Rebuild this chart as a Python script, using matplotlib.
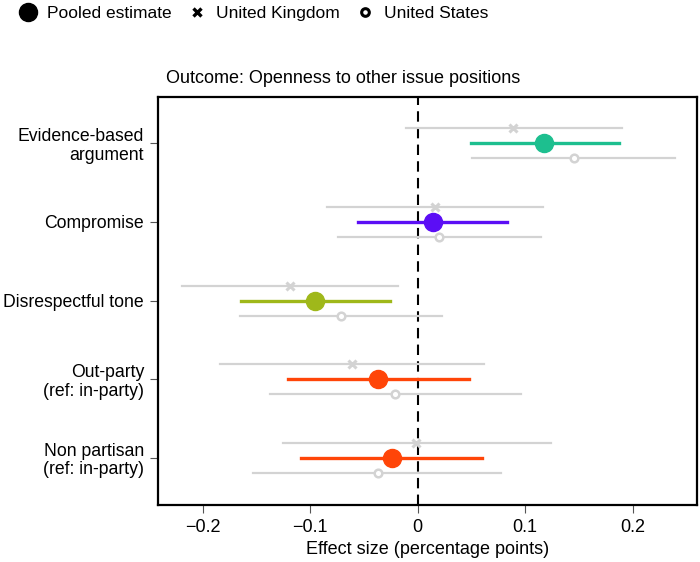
import matplotlib
matplotlib.use("Agg")
import matplotlib.pyplot as plt
from matplotlib.lines import Line2D

plt.rcParams['font.family'] = ['Liberation Sans', 'DejaVu Sans']

categories = ["Evidence-based\nargument", "Compromise", "Disrespectful tone",
              "Out-party\n(ref: in-party)", "Non partisan\n(ref: in-party)"]
colors = ["#1dbf8f", "#5b0ef5", "#9fb81a", "#ff4508", "#ff4508"]

pooled_est = [0.118, 0.014, -0.095, -0.037, -0.024]
pooled_lo = [0.050, -0.055, -0.164, -0.121, -0.108]
pooled_hi = [0.187, 0.083, -0.026, 0.048, 0.060]

uk_est = [0.089, 0.016, -0.119, -0.061, -0.001]
uk_lo = [-0.011, -0.084, -0.219, -0.184, -0.125]
uk_hi = [0.190, 0.117, -0.018, 0.062, 0.124]

us_est = [0.146, 0.020, -0.071, -0.021, -0.037]
us_lo = [0.051, -0.074, -0.165, -0.137, -0.153]
us_hi = [0.240, 0.115, 0.023, 0.096, 0.078]

xticks = [-0.2, -0.1, 0, 0.1, 0.2]
xticklabels = ["\u22120.2", "\u22120.1", "0", "0.1", "0.2"]

fig = plt.figure(figsize=(7, 5.62), dpi=100)
ax = fig.add_axes([0.2257, 0.1014, 0.77, 0.726])

gray = "#d3d3d3"
off = 0.19
for i in range(len(categories)):
    # UK
    ax.plot([uk_lo[i], uk_hi[i]], [i - off, i - off], color=gray, lw=1.6, zorder=1)
    ax.plot(uk_est[i], i - off, marker="x", color=gray, ms=6, mew=2.2, zorder=2)
    # US
    ax.plot([us_lo[i], us_hi[i]], [i + off, i + off], color=gray, lw=1.6, zorder=1)
    ax.plot(us_est[i], i + off, marker="o", mfc="white", mec=gray, ms=5.5, mew=1.8, zorder=2)
    # pooled
    ax.plot([pooled_lo[i], pooled_hi[i]], [i, i], color=colors[i], lw=2.4, zorder=3)
    ax.plot(pooled_est[i], i, marker="o", color=colors[i], ms=13, zorder=4)

ax.axvline(0, color="black", lw=1.5, ls=(0, (5, 3)), zorder=0)

ax.set_xlim(-0.2415, 0.26)
ax.set_ylim(4.6, -0.59)
ax.set_yticks(range(len(categories)))
ax.set_yticklabels(categories, fontsize=12.7, linespacing=1.1)
ax.set_xticks(xticks)
ax.set_xticklabels(xticklabels, fontsize=13)
ax.set_xlabel("Effect size (percentage points)", fontsize=13, labelpad=4)
ax.text(0.015, 1.025, "Outcome: Openness to other issue positions", fontsize=13,
        transform=ax.transAxes, ha="left", va="bottom")
for s in ax.spines.values():
    s.set_linewidth(1.6)
ax.tick_params(length=6, width=0.8, color="#555555", pad=4)

handles = [
    Line2D([], [], ls="none", marker="o", color="black", ms=13),
    Line2D([], [], ls="none", marker="x", color="black", ms=6, mew=2.4),
    Line2D([], [], ls="none", marker="o", mfc="white", mec="black", ms=5.5, mew=2.2),
]
fig.legend(handles, ["Pooled estimate", "United Kingdom", "United States"],
           loc="upper left", bbox_to_anchor=(0.0, 1.017), ncol=3, frameon=False,
           fontsize=12.5, handletextpad=0.4, columnspacing=0.75, handlelength=1.4)

fig.savefig("out.png", dpi=100)
